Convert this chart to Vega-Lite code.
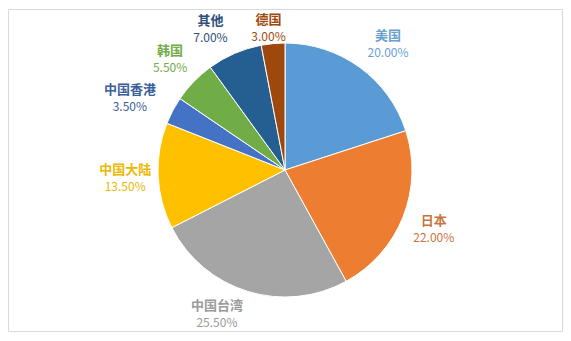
{
  "$schema": "https://vega.github.io/schema/vega-lite/v6.json",
  "width": 554,
  "height": 322,
  "autosize": {"type": "none"},
  "padding": {"left": 8, "top": 9, "right": 9, "bottom": 10},
  "background": "white",
  "view": {"stroke": "#d9d9d9", "strokeWidth": 1, "fill": "white"},
  "data": {
    "values": [
      {"k": 1, "name": "美国", "v": 20.0, "pct": "20.00%"},
      {"k": 2, "name": "日本", "v": 22.0, "pct": "22.00%"},
      {"k": 3, "name": "中国台湾", "v": 25.5, "pct": "25.50%"},
      {"k": 4, "name": "中国大陆", "v": 13.5, "pct": "13.50%"},
      {"k": 5, "name": "中国香港", "v": 3.5, "pct": "3.50%"},
      {"k": 6, "name": "韩国", "v": 5.5, "pct": "5.50%"},
      {"k": 7, "name": "其他", "v": 7.0, "pct": "7.00%"},
      {"k": 8, "name": "德国", "v": 3.0, "pct": "3.00%"}
    ]
  },
  "encoding": {
    "theta": {"field": "v", "type": "quantitative", "stack": true},
    "order": {"field": "k", "type": "quantitative"}
  },
  "layer": [
    {
      "mark": {"type": "arc", "outerRadius": 127, "stroke": "white", "strokeWidth": 1},
      "encoding": {
        "color": {
          "field": "name", "type": "nominal", "legend": null,
          "scale": {
            "domain": ["美国", "日本", "中国台湾", "中国大陆", "中国香港", "韩国", "其他", "德国"],
            "range": ["#5B9BD5", "#ED7D31", "#A5A5A5", "#FFC000", "#4472C4", "#70AD47", "#255E91", "#9E480E"]
          }
        }
      }
    },
    {
      "encoding": {
        "color": {
          "field": "name", "type": "nominal", "legend": null,
          "scale": {
            "domain": ["美国", "日本", "中国台湾", "中国大陆", "中国香港", "韩国", "其他", "德国"],
            "range": ["#6A9FD0", "#C8753E", "#9A9A9A", "#EDB800", "#3B5E9A", "#70AD47", "#2E4F7A", "#9E480E"]
          }
        }
      },
      "layer": [
        {"mark": {"type": "text", "radius": 160, "dy": -8, "font": "Noto Sans CJK SC", "fontSize": 13, "fontWeight": "bold"},
         "encoding": {"text": {"condition": {"test": "indexof(['日本','中国大陆','韩国'], datum.name) >= 0", "field": "name"}, "value": ""}}},
        {"mark": {"type": "text", "radius": 160, "dy": 9, "font": "Noto Sans CJK SC", "fontSize": 12},
         "encoding": {"text": {"condition": {"test": "indexof(['日本','中国大陆','韩国'], datum.name) >= 0", "field": "pct"}, "value": ""}}},
        {"mark": {"type": "text", "radius": 160, "dx": 9, "dy": -5, "font": "Noto Sans CJK SC", "fontSize": 13, "fontWeight": "bold"},
         "encoding": {"text": {"condition": {"test": "datum.name === '美国'", "field": "name"}, "value": ""}}},
        {"mark": {"type": "text", "radius": 160, "dx": 9, "dy": 12, "font": "Noto Sans CJK SC", "fontSize": 12},
         "encoding": {"text": {"condition": {"test": "datum.name === '美国'", "field": "pct"}, "value": ""}}},
        {"mark": {"type": "text", "radius": 160, "dx": -21, "dy": -17, "font": "Noto Sans CJK SC", "fontSize": 13, "fontWeight": "bold"},
         "encoding": {"text": {"condition": {"test": "datum.name === '中国台湾'", "field": "name"}, "value": ""}}},
        {"mark": {"type": "text", "radius": 160, "dx": -21, "dy": 0, "font": "Noto Sans CJK SC", "fontSize": 12},
         "encoding": {"text": {"condition": {"test": "datum.name === '中国台湾'", "field": "pct"}, "value": ""}}},
        {"mark": {"type": "text", "radius": 160, "dx": -11, "dy": -2, "font": "Noto Sans CJK SC", "fontSize": 13, "fontWeight": "bold"},
         "encoding": {"text": {"condition": {"test": "datum.name === '其他'", "field": "name"}, "value": ""}}},
        {"mark": {"type": "text", "radius": 160, "dx": -11, "dy": 15, "font": "Noto Sans CJK SC", "fontSize": 12},
         "encoding": {"text": {"condition": {"test": "datum.name === '其他'", "field": "pct"}, "value": ""}}},
        {"mark": {"type": "text", "radius": 171, "dx": -4, "dy": 0, "font": "Noto Sans CJK SC", "fontSize": 13, "fontWeight": "bold"},
         "encoding": {"text": {"condition": {"test": "datum.name === '中国香港'", "field": "name"}, "value": ""}}},
        {"mark": {"type": "text", "radius": 171, "dx": -4, "dy": 17, "font": "Noto Sans CJK SC", "fontSize": 12},
         "encoding": {"text": {"condition": {"test": "datum.name === '中国香港'", "field": "pct"}, "value": ""}}},
        {"mark": {"type": "text", "radius": 143, "dx": -3, "dy": -8, "font": "Noto Sans CJK SC", "fontSize": 13, "fontWeight": "bold"},
         "encoding": {"text": {"condition": {"test": "datum.name === '德国'", "field": "name"}, "value": ""}}},
        {"mark": {"type": "text", "radius": 143, "dx": -3, "dy": 9, "font": "Noto Sans CJK SC", "fontSize": 12},
         "encoding": {"text": {"condition": {"test": "datum.name === '德国'", "field": "pct"}, "value": ""}}}
      ]
    }
  ],
  "resolve": {"scale": {"color": "independent"}}
}
